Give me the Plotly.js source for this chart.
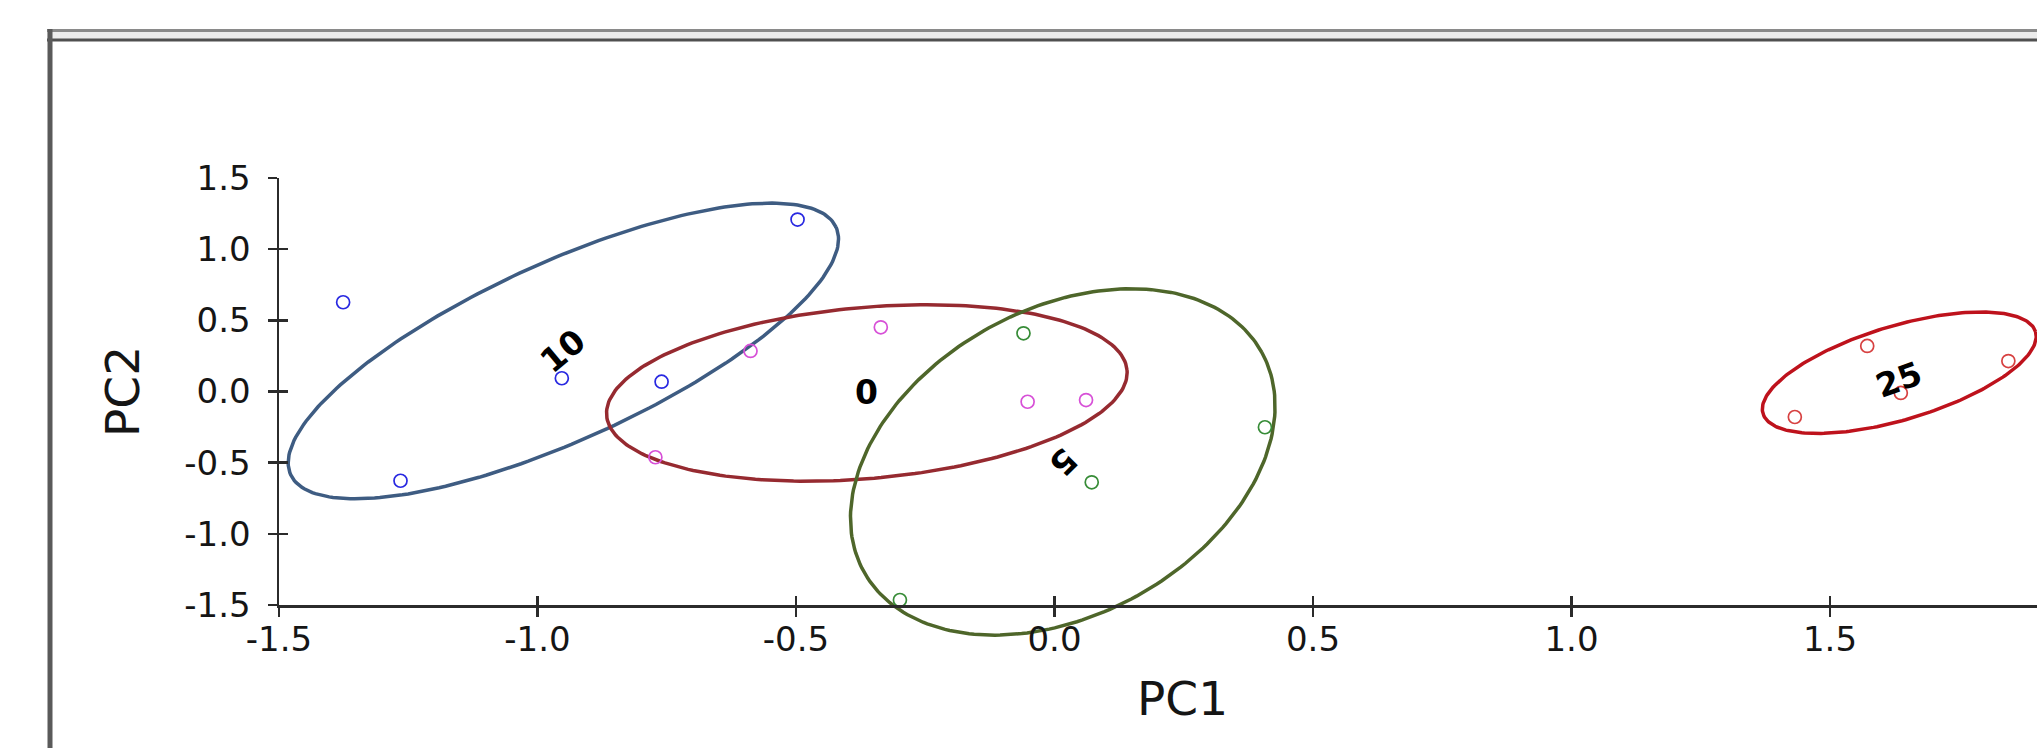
<!DOCTYPE html>
<html>
<head>
<meta charset="utf-8">
<script src="https://cdn.plot.ly/plotly-3.0.1.min.js"></script>
<style>
html,body{margin:0;padding:0;background:#ffffff;}
#chart{width:2037px;height:748px;}
</style>
</head>
<body>
<div id="chart"></div>
<script>
// ---------------- data ----------------
const groupNames = ["10", "0", "5", "25"];

const pc1_g10 = [-1.376, -0.953, -0.760, -1.265, -0.497];
const pc2_g10 = [0.627, 0.093, 0.069, -0.627, 1.208];

const pc1_g0 = [-0.772, -0.588, -0.336, -0.052, 0.061];
const pc2_g0 = [-0.462, 0.285, 0.451, -0.072, -0.060];

const pc1_g5 = [-0.060, 0.407, 0.072, -0.299];
const pc2_g5 = [0.409, -0.251, -0.638, -1.465];

const pc1_g25 = [1.572, 1.432, 1.637, 1.845];
const pc2_g25 = [0.320, -0.179, -0.010, 0.214];

// confidence ellipses: centre and two conjugate semi-axis vectors (data units)
const ellipseCx = [-0.950, -0.363, 0.016, 1.634];
const ellipseCy = [0.285, -0.010, -0.495, 0.132];
const ellipseUx = [0.5275, 0.5033, 0.3851, 0.2636];
const ellipseUy = [0.8691, 0.1602, 0.7693, 0.2874];
const ellipseVx = [-0.0710, -0.0145, -0.1427, -0.0261];
const ellipseVy = [0.5691, 0.5991, 0.9429, 0.3155];

const xTickVals = [-1.5, -1.0, -0.5, 0.0, 0.5, 1.0, 1.5, 2.0];
const xTickText = ["-1.5", "-1.0", "-0.5", "0.0", "0.5", "1.0", "1.5", "2.0"];
const yTickVals = [-1.5, -1.0, -0.5, 0.0, 0.5, 1.0, 1.5];
const yTickText = ["-1.5", "-1.0", "-0.5", "0.0", "0.5", "1.0", "1.5"];

const xTitle = "PC1";
const yTitle = "PC2";

// ---------------- styles ----------------
const pointColors = ["rgb(40,40,225)", "rgb(215,80,215)", "rgb(55,140,55)", "rgb(215,65,65)"];
const ellipseColors = ["rgb(62,92,130)", "rgb(150,42,48)", "rgb(78,102,42)", "rgb(190,18,28)"];
const labelAngles = [-40, 0, 135, -20];
const labelShiftY = [0, 0, 0, -7];

const W = 2037, H = 748;
// full-figure data subplot mapping
const X_RANGE = [-2.0397, 1.9004];
const Y_RANGE = [-2.5047, 2.7507];
const X2_DOMAIN = [279 / W, 1];
const Y2_DOMAIN = [(H - 605) / H, (H - 178) / H];

const pcx = [pc1_g10, pc1_g0, pc1_g5, pc1_g25];
const pcy = [pc2_g10, pc2_g0, pc2_g5, pc2_g25];

const traces = [];
// ellipses
for (let g = 0; g < groupNames.length; g++) {
  const ex = [], ey = [];
  const n = 240;
  for (let k = 0; k <= n; k++) {
    const t = 2 * Math.PI * k / n;
    ex.push(ellipseCx[g] + ellipseUx[g] * Math.cos(t) + ellipseVx[g] * Math.sin(t));
    ey.push(ellipseCy[g] + ellipseUy[g] * Math.cos(t) + ellipseVy[g] * Math.sin(t));
  }
  traces.push({
    type: "scatter", mode: "lines", x: ex, y: ey,
    line: {color: ellipseColors[g], width: 3.5},
    hoverinfo: "skip", showlegend: false, xaxis: "x", yaxis: "y"
  });
}
// points
for (let g = 0; g < groupNames.length; g++) {
  traces.push({
    type: "scatter", mode: "markers", name: groupNames[g],
    x: pcx[g], y: pcy[g],
    marker: {symbol: "circle-open", size: 13, color: pointColors[g], line: {width: 1.7, color: pointColors[g]}},
    showlegend: false, xaxis: "x", yaxis: "y"
  });
}
// empty traces to create visible axis subplots
traces.push({type: "scatter", x: [], y: [], xaxis: "x2", yaxis: "y2", showlegend: false, hoverinfo: "skip"});
traces.push({type: "scatter", x: [], y: [], xaxis: "x3", yaxis: "y3", showlegend: false, hoverinfo: "skip"});

const tickFont = {family: "DejaVu Sans, Verdana, sans-serif", size: 34, color: "#151515"};

const annotations = [];
for (let g = 0; g < groupNames.length; g++) {
  annotations.push({
    x: ellipseCx[g], y: ellipseCy[g], xref: "x", yref: "y",
    text: groupNames[g], showarrow: false, textangle: labelAngles[g], yshift: labelShiftY[g],
    font: {family: "DejaVu Sans, Verdana, sans-serif", size: 33, color: "#000", weight: "bold"},
    xanchor: "center", yanchor: "middle"
  });
}
annotations.push({
  x: 1182 / W, y: 1 - 698 / H, xref: "paper", yref: "paper", text: xTitle, showarrow: false,
  font: {family: "DejaVu Sans, Verdana, sans-serif", size: 47, color: "#151515"},
  xanchor: "center", yanchor: "middle"
});
annotations.push({
  x: 122 / W, y: 1 - 392 / H, xref: "paper", yref: "paper", text: yTitle, showarrow: false,
  textangle: -90,
  font: {family: "DejaVu Sans, Verdana, sans-serif", size: 47, color: "#151515"},
  xanchor: "center", yanchor: "middle"
});

const shapes = [
  {type: "rect", xref: "paper", yref: "paper", x0: 47 / W, x1: 1, y0: 1 - 41 / H, y1: 1 - 29 / H,
   fillcolor: "#ececec", line: {width: 0}, layer: "above"},
  {type: "line", xref: "paper", yref: "paper", x0: 47 / W, x1: 1, y0: 1 - 30.5 / H, y1: 1 - 30.5 / H,
   line: {color: "#8a8a8a", width: 3}},
  {type: "line", xref: "paper", yref: "paper", x0: 47 / W, x1: 1, y0: 1 - 40 / H, y1: 1 - 40 / H,
   line: {color: "#505050", width: 3}},
  {type: "line", xref: "paper", yref: "paper", x0: 50 / W, x1: 50 / W, y0: 0, y1: 1 - 29 / H,
   line: {color: "#5a5a5a", width: 5}}
];

const axisLine = {showline: true, linecolor: "#2b2b2b", linewidth: 2.5};

const layout = {
  width: W, height: H, autosize: false,
  margin: {l: 0, r: 0, t: 0, b: 0, pad: 0},
  paper_bgcolor: "#ffffff", plot_bgcolor: "rgba(0,0,0,0)",
  showlegend: false,
  xaxis: {domain: [0, 1], range: X_RANGE, visible: false, fixedrange: true},
  yaxis: {domain: [0, 1], range: Y_RANGE, visible: false, fixedrange: true},
  xaxis2: Object.assign({
    domain: X2_DOMAIN, range: [-1.5, X_RANGE[1]], anchor: "y2",
    tickmode: "array", tickvals: xTickVals, ticktext: xTickText,
    ticks: "outside", ticklen: 9, tickwidth: 2.5, tickcolor: "#2b2b2b",
    tickfont: tickFont, ticklabelstandoff: -6,
    showgrid: false, zeroline: false, fixedrange: true
  }, axisLine),
  yaxis2: Object.assign({
    domain: Y2_DOMAIN, range: [-1.5, 1.5], anchor: "x2",
    tickmode: "array", tickvals: yTickVals, ticktext: yTickText,
    ticks: "outside", ticklen: 9, tickwidth: 2.5, tickcolor: "#2b2b2b",
    tickfont: tickFont, ticklabelstandoff: 10,
    showgrid: false, zeroline: false, fixedrange: true
  }, axisLine),
  xaxis3: {
    overlaying: "x2", range: [-1.5, X_RANGE[1]], anchor: "y2",
    tickmode: "array", tickvals: xTickVals, showticklabels: false,
    ticks: "inside", ticklen: 9, tickwidth: 2.5, tickcolor: "#2b2b2b",
    showline: false, showgrid: false, zeroline: false, fixedrange: true
  },
  yaxis3: {
    overlaying: "y2", range: [-1.5, 1.5], anchor: "x2",
    tickmode: "array", tickvals: yTickVals, showticklabels: false,
    ticks: "inside", ticklen: 9, tickwidth: 2.5, tickcolor: "#2b2b2b",
    showline: false, showgrid: false, zeroline: false, fixedrange: true
  },
  annotations: annotations,
  shapes: shapes
};

Plotly.newPlot("chart", traces, layout, {staticPlot: true, displayModeBar: false});
</script>
</body>
</html>
